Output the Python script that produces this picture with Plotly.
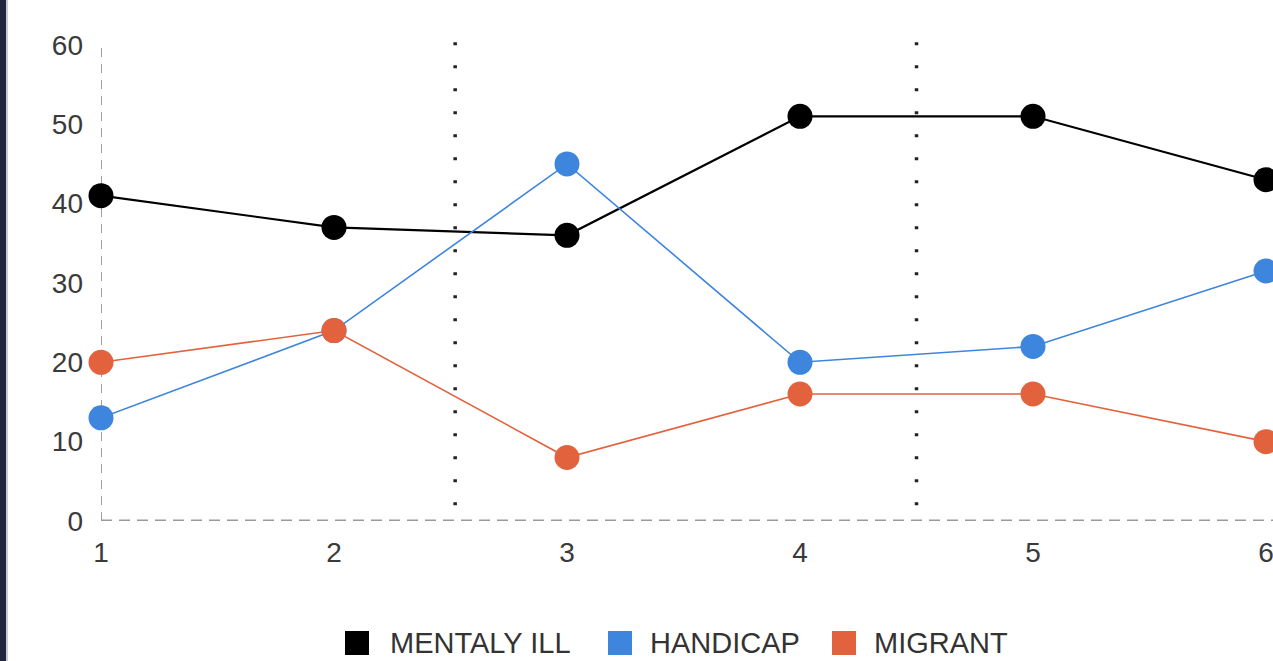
import plotly.graph_objects as go

categories = [1, 2, 3, 4, 5, 6]
mentaly_ill = [41, 37, 36, 51, 51, 43]
handicap = [13, 24, 45, 20, 22, 31.5]
migrant = [20, 24, 8, 16, 16, 10]
series_names = ["MENTALY ILL", "HANDICAP", "MIGRANT"]
series_colors = ["#000000", "#3d85dd", "#e3623e"]
series_widths = [2.2, 1.6, 1.6]
y_ticks = [0, 10, 20, 30, 40, 50, 60]
divider_x = [2.52, 4.5]

W, H = 1273, 661
L, R, T, B = 101, 0, 29, 140
pw = W - L - R
ph = H - T - B


def px_x(p):
    return (p - L) / pw


def px_y(p):
    return (H - B - p) / ph


fig = go.Figure()

for name, vals, col, lw in zip(series_names, [mentaly_ill, handicap, migrant], series_colors, series_widths):
    fig.add_trace(go.Scatter(
        x=categories, y=vals, mode="lines+markers", name=name,
        line=dict(color=col, width=lw),
        marker=dict(color=col, size=25),
        cliponaxis=False, showlegend=False, hoverinfo="skip",
    ))

shapes = []
# dashed axes
shapes.append(dict(type="line", xref="x", yref="y", x0=1, x1=1, y0=0, y1=60,
                   line=dict(color="#a0a0a0", width=2, dash="9px,7px"), layer="below"))
shapes.append(dict(type="line", xref="x", yref="y", x0=1, x1=6.1, y0=0, y1=0,
                   line=dict(color="#9a9a9a", width=3, dash="11px,7px"), layer="below"))
for dx in divider_x:
    shapes.append(dict(type="line", xref="x", yref="y", x0=dx, x1=dx, y0=2, y1=61,
                       line=dict(color="#222222", width=3.5, dash="3px,20px"), layer="below"))
# dark left border strip
shapes.append(dict(type="rect", xref="paper", yref="paper", x0=px_x(0), x1=px_x(6),
                   y0=-2, y1=3, fillcolor="#23273e", line=dict(width=0)))
shapes.append(dict(type="rect", xref="paper", yref="paper", x0=px_x(6), x1=px_x(8),
                   y0=-2, y1=3, fillcolor="#c9cbdb", line=dict(width=0)))

# legend (drawn as squares + labels)
legend_sq_left = [345, 608, 832]
legend_text_left = [388, 648, 872]
legend_cy = 643
sq = 24
annotations = []
for name, col, sx, tx in zip(series_names, series_colors, legend_sq_left, legend_text_left):
    shapes.append(dict(type="rect", xref="paper", yref="paper",
                       x0=px_x(sx), x1=px_x(sx + sq),
                       y0=px_y(legend_cy + sq / 2), y1=px_y(legend_cy - sq / 2),
                       fillcolor=col, line=dict(width=0)))
    annotations.append(dict(xref="paper", yref="paper", x=px_x(tx), y=px_y(legend_cy),
                            xanchor="left", yanchor="middle", showarrow=False, text=name,
                            font=dict(size=29, color="#333333")))

fig.update_layout(
    width=W, height=H,
    margin=dict(l=L, r=R, t=T, b=B, pad=0),
    plot_bgcolor="white", paper_bgcolor="white",
    font=dict(family="Arial, Liberation Sans", color="#3a3a3a", size=28),
    showlegend=False,
    xaxis=dict(range=[1, 6.03], tickvals=categories, showgrid=False, zeroline=False,
               showline=False, ticks="", ticklabelstandoff=12, ticklabeloverflow="allow",
               tickfont=dict(size=28, color="#3a3a3a")),
    yaxis=dict(range=[0, 62], tickvals=y_ticks, showgrid=False, zeroline=False,
               showline=False, ticks="", ticklabelstandoff=17,
               tickfont=dict(size=28, color="#3a3a3a")),
    shapes=shapes,
    annotations=annotations,
)

fig.write_html("out.html", config={"displayModeBar": False},
               post_script="document.body.style.margin='0';")
